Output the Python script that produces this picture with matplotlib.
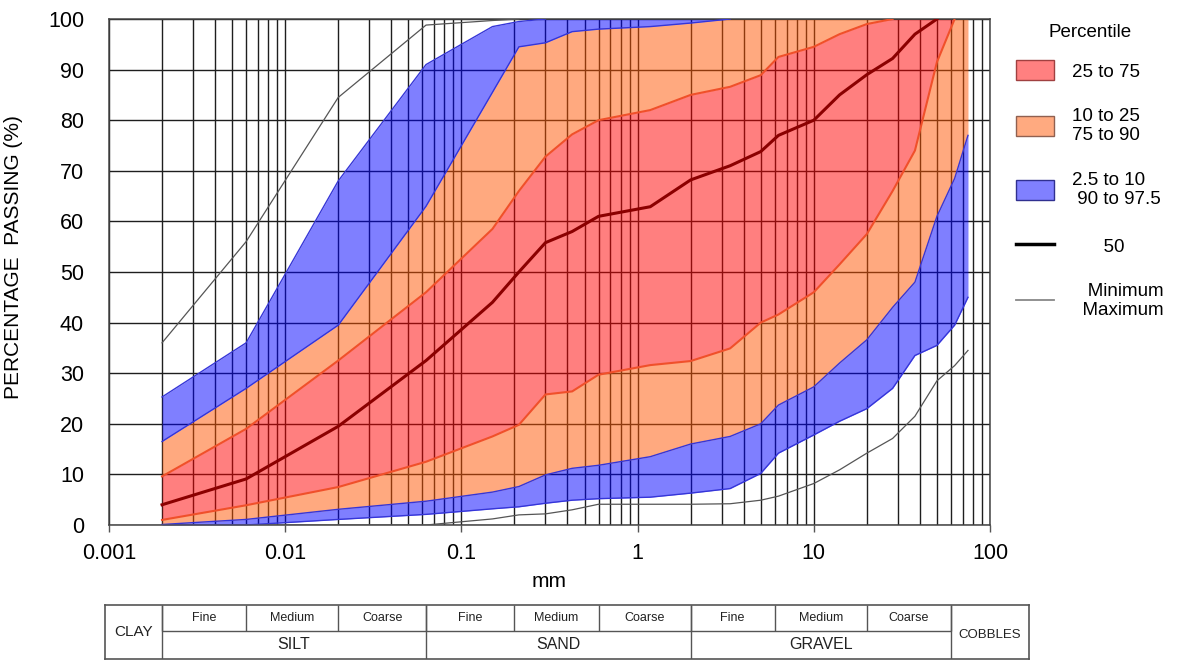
#!/usr/bin/env python3
"""
Particle size distribution envelope (percentile bands) with soil classification bar
"""

import numpy as np
import matplotlib
matplotlib.use('Agg')
import matplotlib.pyplot as plt
from matplotlib.patches import Patch
from matplotlib.lines import Line2D
from matplotlib.ticker import LogLocator, NullFormatter

plt.rcParams['font.family'] = ['Liberation Sans', 'DejaVu Sans']

# sieve / hydrometer sizes (mm)
sizes = [0.002, 0.006, 0.02, 0.063, 0.15, 0.212, 0.3, 0.425, 0.6, 1.18, 2, 3.35,
         5, 6.3, 10, 14, 20, 28, 37.5, 50, 63, 75]

# percentage passing for each percentile
p97_5 = [25.3, 36, 68, 91, 98.5, 99.5, 100, 100, 100, 100, 100, 100,
         100, 100, 100, 100, 100, 100, 100, 100, 100, 100]
p90 = [16.5, 27, 39.5, 63, 85.5, 94.5, 95.3, 97.5, 98, 98.5, 99.2, 100,
       100, 100, 100, 100, 100, 100, 100, 100, 100, 100]
p75 = [9.6, 19, 32.5, 46, 58.5, 66, 72.8, 77.2, 80, 82, 85, 86.6,
       88.9, 92.5, 94.5, 97, 99, 100, 100, 100, 100, 100]
p50 = [4, 9.1, 19.5, 32.5, 44, 50, 55.8, 58, 61, 62.9, 68.2, 71,
       73.8, 77, 80, 85, 89, 92.2, 97, 100, 100, 100]
p25 = [1.0, 3.9, 7.5, 12.5, 17.5, 19.8, 25.8, 26.4, 29.7, 31.6, 32.4, 34.9,
       40, 41.6, 46, 51.5, 57.5, 66, 74, 91.5, 100, 100]
p10 = [0.1, 1.1, 3.1, 4.7, 6.5, 7.6, 9.9, 11.2, 11.8, 13.5, 16, 17.5,
       20, 23.7, 27.3, 32, 36.6, 43, 48, 61, 68.5, 77]
p2_5 = [0, 0, 1.1, 2.1, 3.2, 3.6, 4.3, 4.9, 5.2, 5.5, 6.3, 7.2,
        10.2, 14.2, 17.8, 20.5, 23, 27, 33.5, 35.5, 39.5, 45]
p_min = [0, 0, 0, 0, 1.2, 2, 2.2, 3, 4.1, 4.1, 4.1, 4.2,
         4.9, 5.7, 8.2, 10.9, 14.2, 17.1, 21.5, 28.5, 31.5, 34.5]
p_max = [36, 56, 84.5, 98.8, 99.7, 100, 100, 100, 100, 100, 100, 100,
         100, 100, 100, 100, 100, 100, 100, 100, 100, 100]

xticks = [0.001, 0.01, 0.1, 1, 10, 100]
xtick_labels = ['0.001', '0.01', '0.1', '1', '10', '100']
yticks = list(range(0, 101, 10))

# classification bar
class_edges = [0.002, 0.063, 2, 60]
class_names = ['SILT', 'SAND', 'GRAVEL']
sub_edges = [0.002, 0.006, 0.02, 0.063, 0.2, 0.6, 2, 6, 20, 60]
sub_names = ['Fine', 'Medium', 'Coarse'] * 3

legend_labels = ['25 to 75', '10 to 25\n75 to 90', '2.5 to 10\n 90 to 97.5',
                 '      50', '   Minimum\n  Maximum']

RED = '#ff0000'
ORANGE = '#ff5500'
BLUE = '#0000ff'


def trim_top(y):
    """hide the flat part of a curve running along the 100 % line"""
    y = np.asarray(y, dtype=float)
    prev = np.concatenate([[0], y[:-1]])
    return np.ma.masked_where((y >= 100) & (prev >= 100), y)


x = np.array(sizes)

fig = plt.figure(figsize=(11.82, 6.60), dpi=100)
ax = fig.add_axes([109 / 1182, 1 - 525 / 660, (990 - 109) / 1182, (525 - 19) / 660])

ax.set_xscale('log')
ax.set_xlim(0.001, 100)
ax.set_ylim(0, 100)

# bands
ax.fill_between(x, p90, p97_5, color=BLUE, alpha=0.5, lw=0, zorder=2)
ax.fill_between(x, p75, p90, color=ORANGE, alpha=0.5, lw=0, zorder=2)
ax.fill_between(x, p25, p75, color=RED, alpha=0.5, lw=0, zorder=2)
ax.fill_between(x, p10, p25, color=ORANGE, alpha=0.5, lw=0, zorder=2)
ax.fill_between(x, p2_5, p10, color=BLUE, alpha=0.5, lw=0, zorder=2)

# band outlines
for curve in (p97_5, p90, p10, p2_5):
    ax.plot(x, trim_top(curve), color='#3535d8', lw=1.0, zorder=3)
for curve in (p75, p25):
    ax.plot(x, trim_top(curve), color='#f0502a', lw=1.5, zorder=3)

ax.plot(x, trim_top(p50), color='#8b0000', lw=2.2, zorder=4)
ax.plot(x, trim_top(p_max), color='#555555', lw=0.9, zorder=4)
ax.plot(x, p_min, color='#555555', lw=0.9, zorder=4)

# grid
ax.xaxis.set_minor_locator(LogLocator(base=10, subs=np.arange(2, 10)))
ax.xaxis.set_minor_formatter(NullFormatter())
ax.grid(True, which='both', axis='x', color='#1e1e1e', lw=1.0, zorder=1)
ax.grid(True, which='major', axis='y', color='#1e1e1e', lw=1.0, zorder=1)
ax.set_axisbelow(True)

ax.set_xticks(xticks, labels=xtick_labels)
ax.set_yticks(yticks)
ax.tick_params(axis='x', which='major', length=5, width=1, color='#555555',
               labelsize=15.5, pad=8)
ax.tick_params(axis='x', which='minor', length=0)
ax.tick_params(axis='y', length=0, labelsize=15.5, pad=18)
for sp in ax.spines.values():
    sp.set_color('#444444')
    sp.set_linewidth(1.1)

ax.set_xlabel('mm', fontsize=15, labelpad=6)
ax.set_ylabel('PERCENTAGE  PASSING (%)', fontsize=15)
ax.yaxis.set_label_coords(-0.098, 0.53)

# legend
handles = [Patch(facecolor='#ff8080', edgecolor='#a04040', lw=1.0),
           Patch(facecolor='#ffaa80', edgecolor='#906050', lw=1.0),
           Patch(facecolor='#8080ff', edgecolor='#303090', lw=1.0),
           Line2D([], [], color='black', lw=2.5),
           Line2D([], [], color='#888888', lw=1.3)]
leg = fig.legend(handles, legend_labels, loc='upper left',
                 bbox_to_anchor=(1016 / 1182, 1 - 24 / 660), frameon=False,
                 title='Percentile', fontsize=13.5, title_fontsize=13.5,
                 handlelength=2.0, handleheight=1.25, handletextpad=1.0,
                 labelspacing=1.45, borderpad=0, borderaxespad=0)
leg._legend_box.sep = 14

# classification bar below the chart
lo = 10 ** (-3 - 4 / 176.2)
hi = 10 ** (2 + 39 / 176.2)
axt = fig.add_axes([105 / 1182, 1 / 660, (1029 - 105) / 1182, (659 - 605) / 660])
axt.set_xscale('log')
axt.set_xlim(lo, hi)
axt.set_ylim(0, 1)
axt.set_xticks([])
axt.set_yticks([])
axt.minorticks_off()
for sp in axt.spines.values():
    sp.set_color('#555555')
    sp.set_linewidth(1.2)

mid = 0.52
axt.vlines(class_edges, 0, 1, color='#555555', lw=1.0)
axt.hlines(mid, class_edges[0], class_edges[-1], color='#555555', lw=1.0)
axt.vlines(sub_edges, mid, 1, color='#555555', lw=1.0)

for a, b, name in zip(sub_edges[:-1], sub_edges[1:], sub_names):
    axt.text(np.sqrt(a * b), (mid + 1) / 2, name, ha='center', va='center',
             fontsize=9, color='#222222')
for a, b, name in zip(class_edges[:-1], class_edges[1:], class_names):
    axt.text(np.sqrt(a * b), mid / 2, name, ha='center', va='center',
             fontsize=11.5, color='#222222')
axt.text(np.sqrt(lo * class_edges[0]), 0.5, 'CLAY', ha='center', va='center',
         fontsize=11, color='#222222')
axt.text(np.sqrt(class_edges[-1] * hi), 0.45, 'COBBLES', ha='center', va='center',
         fontsize=9.5, color='#222222')

plt.savefig('out.png', dpi=100)
plt.close()
